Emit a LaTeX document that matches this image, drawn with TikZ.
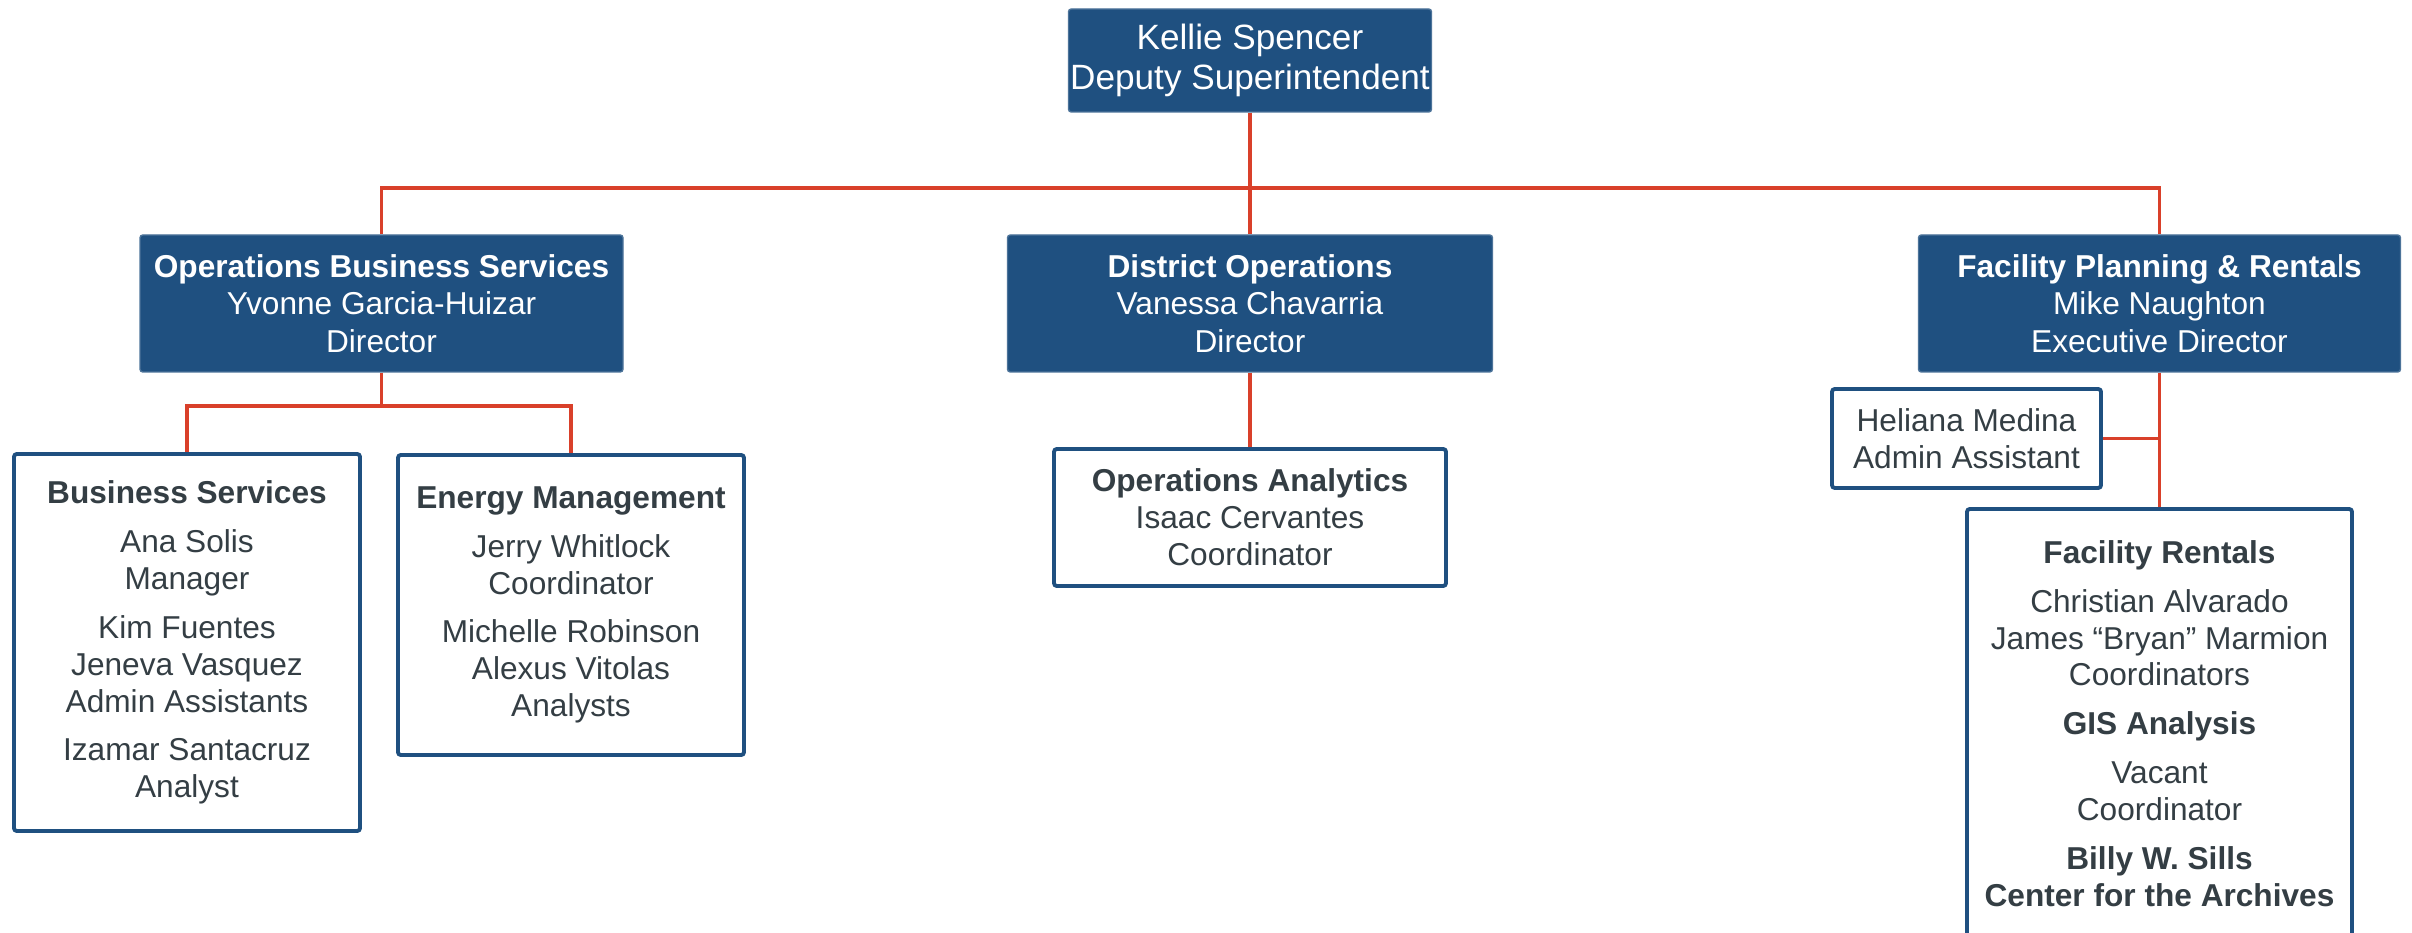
\documentclass[tikz,border=0pt]{standalone}
\usepackage{fontspec}
\setmainfont{Liberation Sans}
\definecolor{orgblue}{RGB}{31,80,128}
\definecolor{orgred}{RGB}{217,64,42}
\definecolor{orgtext}{RGB}{52,62,68}
\begin{document}
\begin{tikzpicture}[
	head/.style={fill=orgblue,draw=orgblue!80!white,line width=0.4pt,rounded corners=0.8pt,
		text=white,align=center,inner sep=0pt,font=\fontsize{9}{10.6}\selectfont},
	unit/.style={fill=white,draw=orgblue,line width=1.1pt,rounded corners=0.8pt,
		text=orgtext,align=center,inner sep=0pt,font=\fontsize{9}{10.5}\selectfont},
	link/.style={draw=orgred,line width=0.9pt}]
\useasboundingbox (0,0) rectangle (24.12,-9.33);
\node[head,minimum width=3.63cm,minimum height=1.03cm,font=\fontsize{10}{11.4}\selectfont]
	(top) at (12.50,-0.605) {Kellie Spencer\\Deputy Superintendent};
\node[head,minimum width=4.83cm,minimum height=1.37cm] (obs) at (3.815,-3.035)
	{\textbf{Operations Business Services}\\Yvonne Garcia-Huizar\\Director};
\node[head,minimum width=4.85cm,minimum height=1.37cm] (do) at (12.50,-3.035)
	{\textbf{District Operations}\\Vanessa Chavarria\\Director};
\node[head,minimum width=4.82cm,minimum height=1.37cm] (fpr) at (21.595,-3.035)
	{\textbf{Facility Planning \& Renta}l\textbf{s}\\Mike Naughton\\Executive Director};
\node[unit,minimum width=3.46cm,minimum height=3.77cm] (bs) at (1.87,-6.425)
	{\textbf{Business Services}\\[3.4pt]Ana Solis\\Manager\\[3.4pt]Kim Fuentes\\Jeneva Vasquez\\Admin Assistants\\[3.4pt]Izamar Santacruz\\Analyst};
\node[unit,minimum width=3.46cm,minimum height=3.00cm] (em) at (5.71,-6.05)
	{\textbf{Energy Management}\\[3.4pt]Jerry Whitlock\\Coordinator\\[3.4pt]Michelle Robinson\\Alexus Vitolas\\Analysts};
\node[unit,minimum width=3.92cm,minimum height=1.37cm] (oa) at (12.50,-5.175)
	{\textbf{Operations Analytics}\\Isaac Cervantes\\Coordinator};
\node[unit,minimum width=2.69cm,minimum height=0.99cm] (hm) at (19.665,-4.385)
	{Heliana Medina\\Admin Assistant};
\node[unit,minimum width=3.85cm,minimum height=4.29cm] (fr) at (21.595,-7.235)
	{\textbf{Facility Rentals}\\[3.4pt]Christian Alvarado\\James “Bryan” Marmion\\Coordinators\\[3.4pt]\textbf{GIS Analysis}\\[3.4pt]Vacant\\Coordinator\\[3.4pt]\textbf{Billy W. Sills}\\\textbf{Center for the Archives}};
\coordinate (bus) at (0,-1.88);
\coordinate (sub) at (0,-4.06);
\draw[link] (top) -- (do);
\draw[link] (obs) -- (obs |- bus) -- (fpr |- bus) -- (fpr);
\draw[link] (obs) -- (obs |- sub);
\draw[link] (bs) -- (bs |- sub) -- (em |- sub) -- (em);
\draw[link] (do) -- (oa);
\draw[link] (fpr) -- (fr);
\draw[link] (hm.east) -- (hm.east -| fr.north);
\end{tikzpicture}
\end{document}
